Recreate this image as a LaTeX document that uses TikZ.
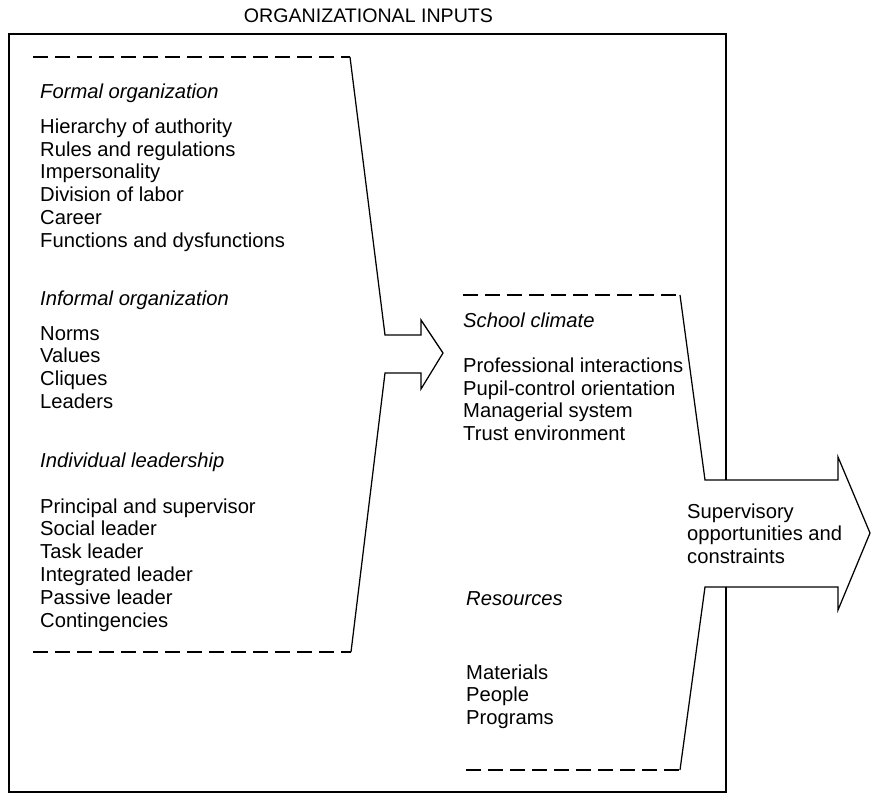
\documentclass[tikz,border=0pt]{standalone}
\usepackage{fontspec}
\setmainfont{Liberation Sans}
\begin{document}
\begin{tikzpicture}[x=1pt,y=-1pt,
  txt/.style={anchor=base west,inner sep=0pt,font=\fontsize{20.2}{22.75}\selectfont},
  head/.style={txt,font=\fontsize{20.2}{22.75}\selectfont\itshape},
  titlestyle/.style={inner sep=0pt,font=\fontsize{19.6}{21}\selectfont},
  thin/.style={line width=1.25pt,line join=miter},
  dashline/.style={line width=1.25pt,dash pattern=on 15pt off 7pt},
  frame/.style={line width=2.6pt,line join=miter}]
\useasboundingbox (0,0) rectangle (872,804);
% title
\node[titlestyle] (title) at (368.5,16) {ORGANIZATIONAL INPUTS};
% outer frame (broken where the output arrow passes)
\draw[frame] (726,480) -- (726,34) -- (9,34) -- (9,792) -- (726,792) -- (726,587);
% left block and arrow
\coordinate (l1) at (33,57);
\coordinate (l2) at (350,57);
\coordinate (l3) at (385,335);
\coordinate (l4) at (421,335);
\coordinate (l5) at (421,320);
\coordinate (l6) at (443,353);
\coordinate (l7) at (421,389);
\coordinate (l8) at (421,373);
\coordinate (l9) at (385,373);
\coordinate (l10) at (351,652);
\coordinate (l11) at (33,652);
\draw[dashline] (l1) -- (l2);
\draw[thin] (l2) -- (l3) -- (l4) -- (l5) -- (l6) -- (l7) -- (l8) -- (l9) -- (l10);
\draw[dashline] (l11) -- (l10);
% right block and arrow
\coordinate (r1) at (463,295);
\coordinate (r2) at (680,295);
\coordinate (r3) at (705,480);
\coordinate (r4) at (838,480);
\coordinate (r5) at (838,457);
\coordinate (r6) at (870,533);
\coordinate (r7) at (838,610);
\coordinate (r8) at (838,587);
\coordinate (r9) at (705,587);
\coordinate (r10) at (680,770);
\coordinate (r11) at (466,770);
\draw[dashline] (r1) -- (r2);
\draw[thin] (r2) -- (r3) -- (r4) -- (r5) -- (r6) -- (r7) -- (r8) -- (r9) -- (r10);
\draw[dashline] (r11) -- (r10);
% left texts
\node[head] (fo) at (40,98) {Formal organization};
\node[txt] (fo1) at (40,133) {Hierarchy of authority};
\node[txt] (fo2) at (40,156) {Rules and regulations};
\node[txt] (fo3) at (40,178.5) {Impersonality};
\node[txt] (fo4) at (40,201) {Division of labor};
\node[txt] (fo5) at (40,224) {Career};
\node[txt] (fo6) at (40,247) {Functions and dysfunctions};
\node[head] (io) at (40,305) {Informal organization};
\node[txt] (io1) at (40,340) {Norms};
\node[txt] (io2) at (40,362.5) {Values};
\node[txt] (io3) at (40,385) {Cliques};
\node[txt] (io4) at (40,408) {Leaders};
\node[head] (il) at (40,467) {Individual leadership};
\node[txt] (il1) at (40,513) {Principal and supervisor};
\node[txt] (il2) at (40,535.5) {Social leader};
\node[txt] (il3) at (40,558.5) {Task leader};
\node[txt] (il4) at (40,581.5) {Integrated leader};
\node[txt] (il5) at (40,604) {Passive leader};
\node[txt] (il6) at (40,627) {Contingencies};
% school climate
\node[head] (sc) at (463,327) {School climate};
\node[txt] (sc1) at (463,372) {Professional interactions};
\node[txt] (sc2) at (463,395) {Pupil-control orientation};
\node[txt] (sc3) at (463,417.5) {Managerial system};
\node[txt] (sc4) at (463,440) {Trust environment};
% output
\node[txt] (so1) at (687,518) {Supervisory};
\node[txt] (so2) at (687,540.5) {opportunities and};
\node[txt] (so3) at (687,563) {constraints};
% resources
\node[head] (rs) at (466,605) {Resources};
\node[txt] (rs1) at (466,679) {Materials};
\node[txt] (rs2) at (466,701.5) {People};
\node[txt] (rs3) at (466,724) {Programs};
\end{tikzpicture}
\end{document}
